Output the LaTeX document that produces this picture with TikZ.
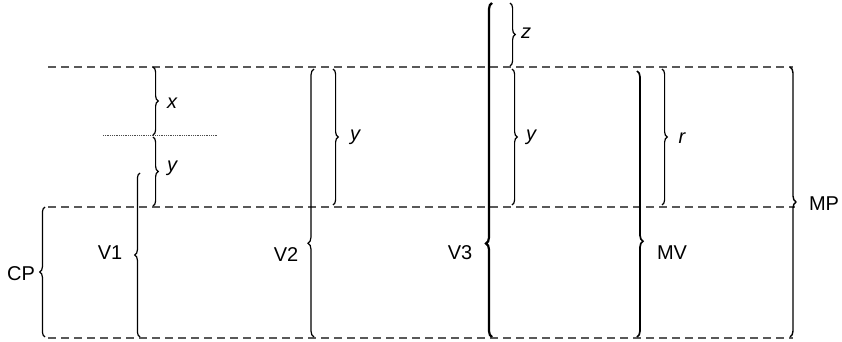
\documentclass[tikz,border=0pt]{standalone}
\usepackage{fontspec}
\setmainfont{Liberation Sans}
\usetikzlibrary{decorations.pathreplacing, positioning}

\begin{document}
\begin{tikzpicture}[x=0.5pt, y=0.5pt,
    guide/.style={dash pattern=on 4pt off 2.5pt, black!65, line width=0.55pt},
    dotguide/.style={dash pattern=on 0.4pt off 0.5pt, black!70, line width=0.5pt},
    bracer/.style={decorate, decoration={brace, amplitude=2.6pt, raise=0pt}, line width=0.6pt},
    bracel/.style={decorate, decoration={brace, mirror, amplitude=2.6pt}, line width=0.6pt},
    lbl/.style={inner sep=0pt},
    var/.style={inner sep=0pt, font=\itshape},
]
\useasboundingbox (0,0) rectangle (842,-342);

% levels
\draw[guide] (48,-67) -- (793,-67);
\draw[guide] (48,-207) -- (795,-207);
\draw[guide] (48,-338) -- (793,-338);
\draw[dotguide] (103,-136) -- (217,-136);

% left part
\draw[bracel] (45,-207) -- (45,-337);
\node[lbl] (cp) at (21,-274) {CP};
\draw[bracer] (153,-67) -- (153,-135);
\node[var] (x) at (172,-103) {x};
\draw[bracer] (153,-137) -- (153,-206);
\node[var] (y1) at (172,-168) {y};
\draw[bracel] (140,-173) -- (140,-337);
\node[lbl] (v1) at (110,-253) {V1};

% V2
\draw[bracel, decoration={aspect=0.65, amplitude=3pt}] (314,-69) -- (314,-337);
\node[lbl] (v2) at (286,-255) {V2};
\draw[bracer] (333,-69) -- (333,-205);
\node[var] (y2) at (355,-137) {y};

% V3
\draw[bracel, line width=1.1pt, decoration={aspect=0.72, amplitude=3pt}] (492,-3) -- (492,-337);
\node[lbl] (v3) at (460,-253) {V3};
\draw[bracer] (510,-3) -- (510,-66);
\node[var] (z) at (526,-33) {z};
\draw[bracer] (512,-69) -- (512,-205);
\node[var] (y3) at (531,-137) {y};

% MV, MP
\draw[bracer, line width=0.85pt, decoration={aspect=0.64, amplitude=3pt}] (637,-71) -- (637,-337);
\node[lbl] (mv) at (672,-253) {MV};
\draw[bracer] (662,-69) -- (662,-205);
\node[var] (r) at (682,-138) {r};
\draw[bracer, line width=0.7pt, decoration={amplitude=3pt}] (790,-67) -- (790,-337);
\node[lbl] (mp) at (824,-204) {MP};

\end{tikzpicture}
\end{document}
